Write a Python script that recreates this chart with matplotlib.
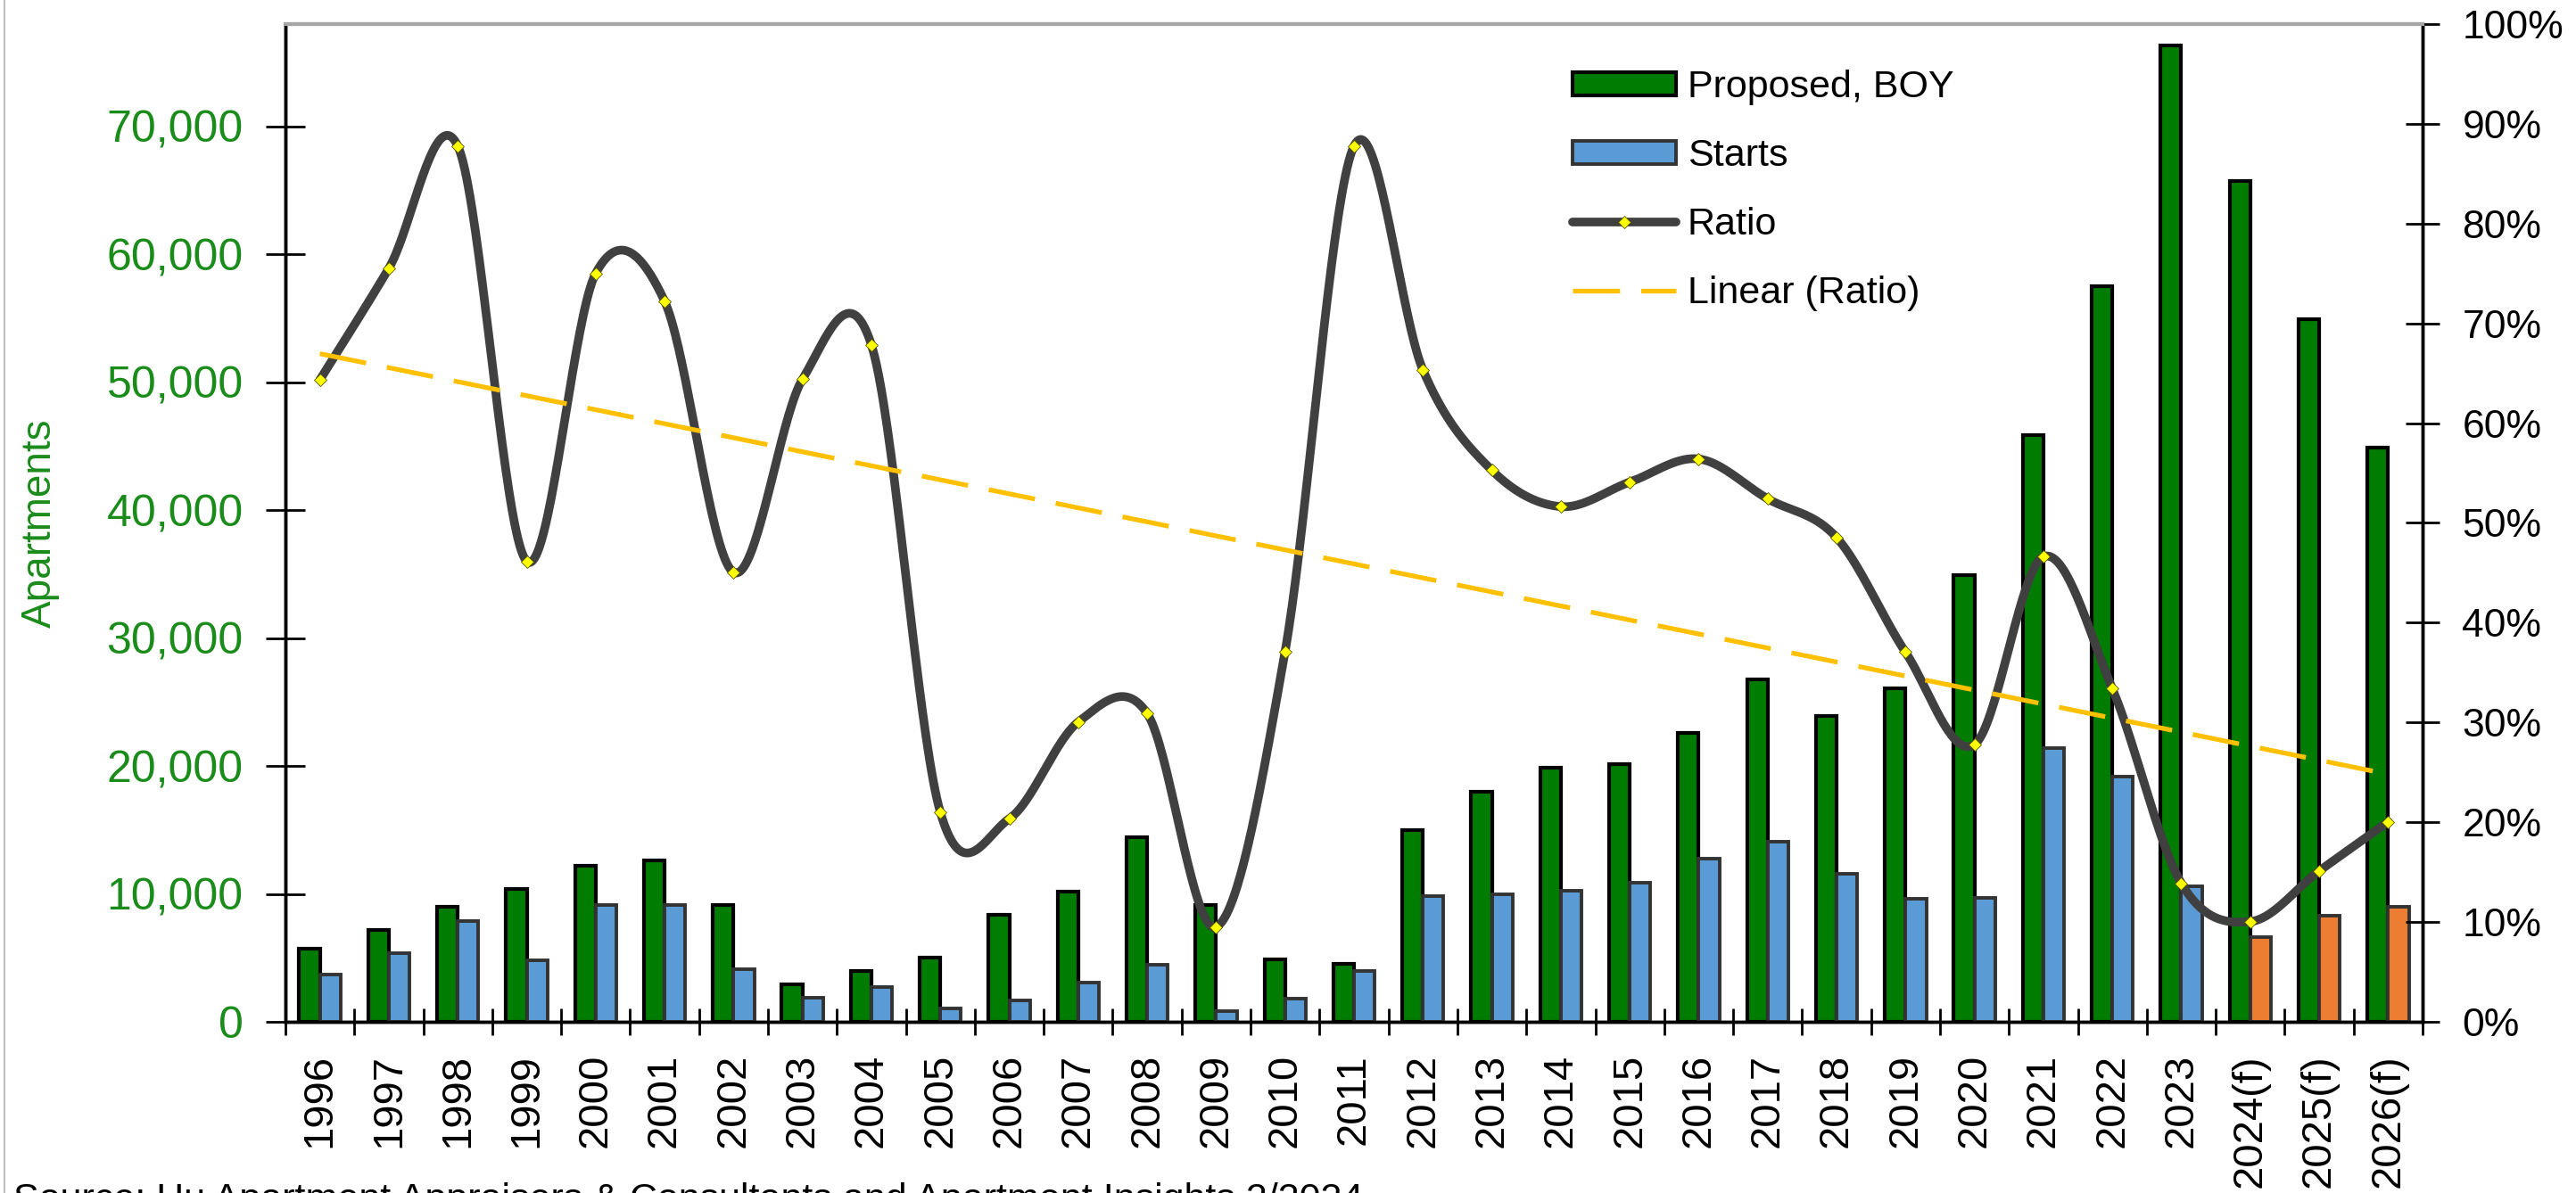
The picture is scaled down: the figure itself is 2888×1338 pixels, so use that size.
import numpy as np
import matplotlib
matplotlib.use("Agg")
import matplotlib.pyplot as plt
from matplotlib.lines import Line2D
from matplotlib.ticker import FuncFormatter, MultipleLocator, FixedLocator

plt.rcParams['font.family'] = ['Liberation Sans', 'DejaVu Sans']

# annual apartment pipeline: proposed at beginning of year and starts
years = ['1996', '1997', '1998', '1999', '2000', '2001', '2002', '2003', '2004',
         '2005', '2006', '2007', '2008', '2009', '2010', '2011', '2012', '2013',
         '2014', '2015', '2016', '2017', '2018', '2019', '2020', '2021', '2022',
         '2023', '2024(f)', '2025(f)', '2026(f)']
proposed = [5750, 7150, 9000, 10400, 12200, 12600, 9100, 2950, 3980, 5000,
            8350, 10150, 14400, 9150, 4850, 4500, 15000, 18000, 19850, 20150,
            22600, 26800, 23900, 26050, 34900, 45900, 57500, 76300, 65700,
            54900, 44900]
starts = [3700, 5400, 7900, 4800, 9150, 9100, 4100, 1900, 2700, 1050,
          1700, 3050, 4450, 870, 1800, 3950, 9800, 9950, 10250, 10900,
          12750, 14050, 11600, 9650, 9700, 21400, 19200, 10600, 6600,
          8300, 9000]
forecast = [y.endswith('(f)') for y in years]

ratio = np.array(starts) / np.array(proposed)
x = np.arange(len(years))

GREEN = '#007D00'
BLUE = '#5B9BD5'
ORANGE = '#ED7D31'
DARK = '#404040'
GOLD = '#FFC000'
AXIS_GREEN = '#1A8C1A'


def smooth_curve(xs, ys, n=40):
    """Bezier smoothing of a polyline, the way spreadsheet charts do it."""
    pts = np.column_stack([xs, ys]).astype(float)
    out = []
    t = np.linspace(0, 1, n)[:, None]
    for i in range(len(pts) - 1):
        p0 = pts[max(i - 1, 0)]
        p1 = pts[i]
        p2 = pts[i + 1]
        p3 = pts[min(i + 2, len(pts) - 1)]
        c1 = p1 + (p2 - p0) / 6.0
        c2 = p2 - (p3 - p1) / 6.0
        seg = (1 - t) ** 3 * p1 + 3 * (1 - t) ** 2 * t * c1 + 3 * (1 - t) * t ** 2 * c2 + t ** 3 * p2
        out.append(seg if i == 0 else seg[1:])
    curve = np.vstack(out)
    return curve[:, 0], curve[:, 1]


fig = plt.figure(figsize=(28.88, 13.38), dpi=100)
ax = fig.add_axes([320 / 2888, 1 - 1146 / 1338, (2716 - 320) / 2888, (1146 - 27) / 1338])
ax2 = ax.twinx()

bw = 0.3
ax.bar(x - bw / 2, proposed, bw, color=GREEN, edgecolor='black', linewidth=3,
       label='Proposed, BOY', zorder=3)
start_colors = [ORANGE if f else BLUE for f in forecast]
ax.bar(x + bw / 2, starts, bw, color=start_colors, edgecolor='#333333', linewidth=2.8,
       label='Starts', zorder=3)

line_kw = dict(color=DARK, linewidth=7, solid_capstyle='round')
marker_kw = dict(marker='D', markersize=7.5, markerfacecolor='#FFFF00',
                 markeredgecolor='#555500', markeredgewidth=0.6)
trend_kw = dict(color=GOLD, linewidth=3.8, linestyle=(0, (10, 4.5)))

sx, sy = smooth_curve(x, ratio)
ax2.plot(sx, sy, zorder=3, **line_kw)
ax2.plot(x, ratio, linestyle='none', zorder=4, **marker_kw)

slope, intercept = np.polyfit(x, ratio, 1)
trend = slope * x + intercept
ax2.plot(x, trend, zorder=5, **trend_kw)

# axes ranges and ticks
ax.set_xlim(-0.5, len(years) - 0.5)
ax.set_ylim(0, 78000)
ax2.set_ylim(0, 1)

ax.yaxis.set_major_locator(MultipleLocator(10000))
ax.yaxis.set_major_formatter(FuncFormatter(lambda v, p: f'{int(v):,}'))
ax2.yaxis.set_major_locator(MultipleLocator(0.1))
ax2.yaxis.set_major_formatter(FuncFormatter(lambda v, p: f'{v * 100:.0f}%'))

ax.set_xticks(x)
ax.set_xticklabels(years, rotation=90, fontsize=34)
ax.xaxis.set_minor_locator(FixedLocator(np.arange(-0.5, len(years), 1.0)))
ax.tick_params(axis='x', which='major', length=0, pad=26)
ax.tick_params(axis='x', which='minor', direction='inout', length=22, width=2)

ax.tick_params(axis='y', direction='inout', length=32, width=2, labelsize=36,
               labelcolor=AXIS_GREEN, pad=18)
ax2.tick_params(axis='y', direction='inout', length=28, width=2, labelsize=32,
                labelcolor='black', pad=18)

ax.set_ylabel('Apartments', fontsize=33, color=AXIS_GREEN, labelpad=38)

for a in (ax, ax2):
    a.spines['top'].set_color('#A6A6A6')
    a.spines['top'].set_linewidth(3)
    a.spines['left'].set_linewidth(2.5)
    a.spines['right'].set_linewidth(2.5)
    a.spines['bottom'].set_linewidth(2.5)

handles = [
    plt.Rectangle((0, 0), 1, 1, facecolor=GREEN, edgecolor='black', linewidth=3),
    plt.Rectangle((0, 0), 1, 1, facecolor=BLUE, edgecolor='#333333', linewidth=2.8),
    Line2D([], [], markevery=[1], **line_kw, **marker_kw),
    Line2D([], [], **trend_kw),
]
labels = ['Proposed, BOY', 'Starts', 'Ratio', 'Linear (Ratio)']
ax2.legend(handles, labels, loc='upper left', bbox_to_anchor=(0.586, 0.989),
           frameon=False, fontsize=31, handlelength=2.7, handleheight=0.55,
           handletextpad=0.3, labelspacing=0.86)

# chart border and the source line along the bottom edge
fig.add_artist(Line2D([5 / 2888, 5 / 2888], [0, 1], color='#BFBFBF', linewidth=1.5))
fig.text(15 / 2888, 1 - 1326 / 1338,
         'Source: Hu Apartment Appraisers & Consultants and Apartment Insights 2/2024',
         fontsize=31, va='top', ha='left')

fig.savefig('out.png', dpi=100)
